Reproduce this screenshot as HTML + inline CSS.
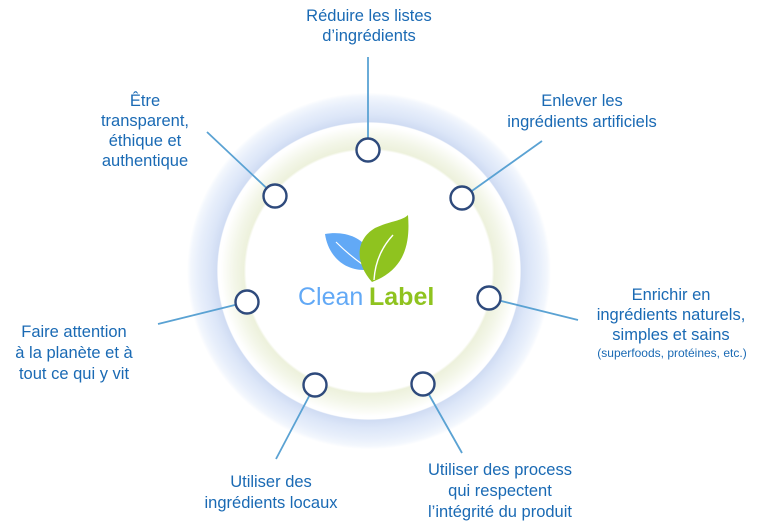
<!DOCTYPE html>
<html>
<head>
<meta charset="utf-8">
<style>
  html, body { margin: 0; padding: 0; background: #ffffff; }
  body { width: 768px; height: 531px; overflow: hidden; }
  svg { display: block; }
  .t { font-family: "Liberation Sans", Arial, sans-serif; font-size: 16.5px; fill: #1a6ab4; }
  .s { font-family: "Liberation Sans", Arial, sans-serif; font-size: 12px; fill: #1a6ab4; }
</style>
</head>
<body>
<svg width="768" height="531" viewBox="0 0 768 531" xmlns="http://www.w3.org/2000/svg">
  <defs>
    <radialGradient id="ring" cx="0" cy="0" r="182" gradientUnits="userSpaceOnUse">
      <stop offset="0" stop-color="#ffffff"/>
      <stop offset="0.675" stop-color="#ffffff"/>
      <stop offset="0.688" stop-color="#edf1dc"/>
      <stop offset="0.74" stop-color="#f3f6e8"/>
      <stop offset="0.79" stop-color="#fbfcf7"/>
      <stop offset="0.815" stop-color="#ffffff"/>
      <stop offset="0.83" stop-color="#ffffff"/>
      <stop offset="0.836" stop-color="#d0dcf3"/>
      <stop offset="0.88" stop-color="#dce6f8"/>
      <stop offset="0.94" stop-color="#e8effb"/>
      <stop offset="0.98" stop-color="#f3f7fd"/>
      <stop offset="1" stop-color="#ffffff"/>
    </radialGradient>
  </defs>

  <!-- ring background -->
  <g transform="translate(369,271) scale(1,0.98)">
    <circle cx="0" cy="0" r="182" fill="url(#ring)"/>
  </g>

  <!-- connectors -->
  <g stroke="#5aa2d3" stroke-width="1.8" fill="none">
    <line x1="368" y1="57" x2="368" y2="150"/>
    <line x1="542" y1="141" x2="462" y2="198"/>
    <line x1="207" y1="132" x2="275" y2="196"/>
    <line x1="158" y1="324" x2="247" y2="302"/>
    <line x1="578" y1="320" x2="489" y2="298"/>
    <line x1="276" y1="459" x2="315" y2="385"/>
    <line x1="462" y1="453" x2="423" y2="384"/>
  </g>

  <!-- nodes -->
  <g fill="#ffffff" stroke="#2e4a7c" stroke-width="2.4">
    <circle cx="368" cy="150" r="11.5"/>
    <circle cx="462" cy="198" r="11.5"/>
    <circle cx="275" cy="196" r="11.5"/>
    <circle cx="247" cy="302" r="11.5"/>
    <circle cx="489" cy="298" r="11.5"/>
    <circle cx="315" cy="385" r="11.5"/>
    <circle cx="423" cy="384" r="11.5"/>
  </g>

  <!-- logo leaves -->
  <path d="M364 270 C 343 270, 328 255, 325 234 C 343 231, 360 236, 369 250 Z" fill="#62a9f6"/>
  <path d="M362 264 C 352 257, 343 249, 336 242" stroke="#ffffff" stroke-width="1.2" fill="none"/>
  <path d="M372 282 C 355 263, 355 240, 375 228 C 390 221, 402 221, 408 215 C 410 240, 407 269, 372 282 Z" fill="#8fc31f"/>
  <path d="M374 280 C 375 263, 381 248, 393 235" stroke="#ffffff" stroke-width="1.4" fill="none"/>

  <!-- logo text -->
  <text x="298" y="305" font-family="Liberation Sans, Arial, sans-serif" font-size="25" fill="#62a9f6">Clean</text>
  <text x="369" y="305" font-family="Liberation Sans, Arial, sans-serif" font-size="25" font-weight="bold" fill="#8fc31f">Label</text>

  <!-- labels -->
  <g text-anchor="middle">
    <text class="t" x="369" y="21">Réduire les listes</text>
    <text class="t" x="369" y="41">d’ingrédients</text>

    <text class="t" x="582" y="106">Enlever les</text>
    <text class="t" x="582" y="127">ingrédients artificiels</text>

    <text class="t" x="145" y="106">Être</text>
    <text class="t" x="145" y="126">transparent,</text>
    <text class="t" x="145" y="146">éthique et</text>
    <text class="t" x="145" y="166">authentique</text>

    <text class="t" x="671" y="300">Enrichir en</text>
    <text class="t" x="671" y="320">ingrédients naturels,</text>
    <text class="t" x="671" y="340">simples et sains</text>
    <text class="s" x="672" y="357">(superfoods, protéines, etc.)</text>

    <text class="t" x="74" y="337">Faire attention</text>
    <text class="t" x="74" y="358">à la planète et à</text>
    <text class="t" x="74" y="379">tout ce qui y vit</text>

    <text class="t" x="271" y="487">Utiliser des</text>
    <text class="t" x="271" y="508">ingrédients locaux</text>

    <text class="t" x="500" y="475">Utiliser des process</text>
    <text class="t" x="500" y="496">qui respectent</text>
    <text class="t" x="500" y="517">l’intégrité du produit</text>
  </g>
</svg>
</body>
</html>
